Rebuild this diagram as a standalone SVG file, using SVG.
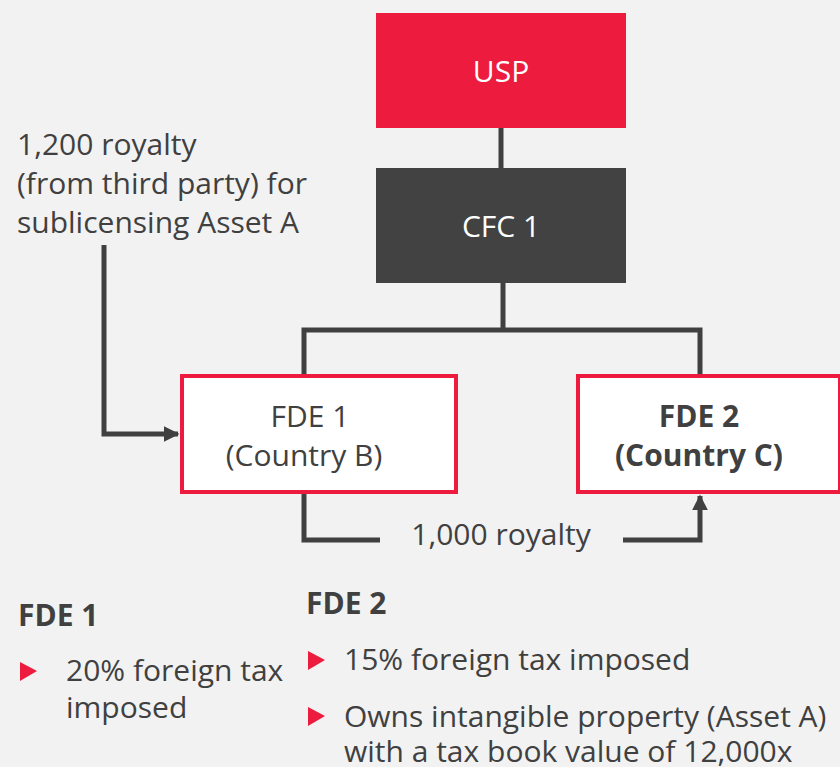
<svg xmlns="http://www.w3.org/2000/svg" width="840" height="767" viewBox="0 0 840 767">
  <defs>
    <style>
      text { font-family: "Open Sans", "Liberation Sans", Arial, sans-serif; fill: #404040; font-size: 30px; }
      .ctr { text-anchor: middle; }
      .white { fill: #ffffff; }
      .bold { font-weight: bold; }
      .conn { fill: none; stroke: #404040; stroke-width: 5; stroke-linejoin: miter; }
      .fde { fill: #ffffff; stroke: #ED1B3D; stroke-width: 4; }
      .bullet { fill: #ED1B3D; }
    </style>
    <marker id="arrow" viewBox="0 0 10 10" refX="9" refY="5" markerWidth="3.2" markerHeight="3.2" orient="auto" markerUnits="strokeWidth">
      <path d="M0,0 L10,5 L0,10 z" fill="#404040"/>
    </marker>
  </defs>

  <rect width="840" height="767" fill="#F2F2F2"/>

  <!-- connectors -->
  <g id="connectors">
    <path class="conn" d="M501,128 V168"/>
    <path class="conn" d="M503,283 V330"/>
    <path class="conn" d="M304,375 V330 H700 V375"/>
    <path class="conn" d="M104,245 V434 H178" marker-end="url(#arrow)"/>
    <path class="conn" d="M304,493 V540 H380"/>
    <path class="conn" d="M623,540 H700 V496" marker-end="url(#arrow)"/>
  </g>

  <g id="usp">
    <rect x="376" y="13" width="250" height="115" fill="#ED1B3D"/>
    <text class="ctr white" x="501" y="82">USP</text>
  </g>

  <g id="cfc1">
    <rect x="376" y="168" width="250" height="115" fill="#424242"/>
    <text class="ctr white" x="501" y="237">CFC 1</text>
  </g>

  <g id="fde1">
    <rect class="fde" x="182" y="376" width="274" height="116"/>
    <text class="ctr" x="310" y="427">FDE 1</text>
    <text class="ctr" x="304" y="466">(Country B)</text>
  </g>

  <g id="fde2">
    <rect class="fde" x="578" y="376" width="262" height="116"/>
    <text class="ctr bold" x="699" y="427">FDE 2</text>
    <text class="ctr bold" x="699" y="466">(Country C)</text>
  </g>

  <g id="royalty-1200">
    <text x="17" y="155">1,200 royalty</text>
    <text x="17" y="194">(from third party) for</text>
    <text x="17" y="233">sublicensing Asset A</text>
  </g>

  <g id="royalty-1000">
    <text class="ctr" x="501" y="545">1,000 royalty</text>
  </g>

  <g id="notes-fde1">
    <text class="bold" x="18" y="626">FDE 1</text>
    <polygon class="bullet" points="20,662 37,671 20,681"/>
    <text x="66" y="681">20% foreign tax</text>
    <text x="66" y="718">imposed</text>
  </g>

  <g id="notes-fde2">
    <text class="bold" x="306" y="614">FDE 2</text>
    <polygon class="bullet" points="308,651 325,660 308,670"/>
    <text x="344" y="670">15% foreign tax imposed</text>
    <polygon class="bullet" points="308,707 325,716 308,726"/>
    <text x="344" y="727">Owns intangible property (Asset A)</text>
    <text x="344" y="762">with a tax book value of 12,000x</text>
  </g>
</svg>
